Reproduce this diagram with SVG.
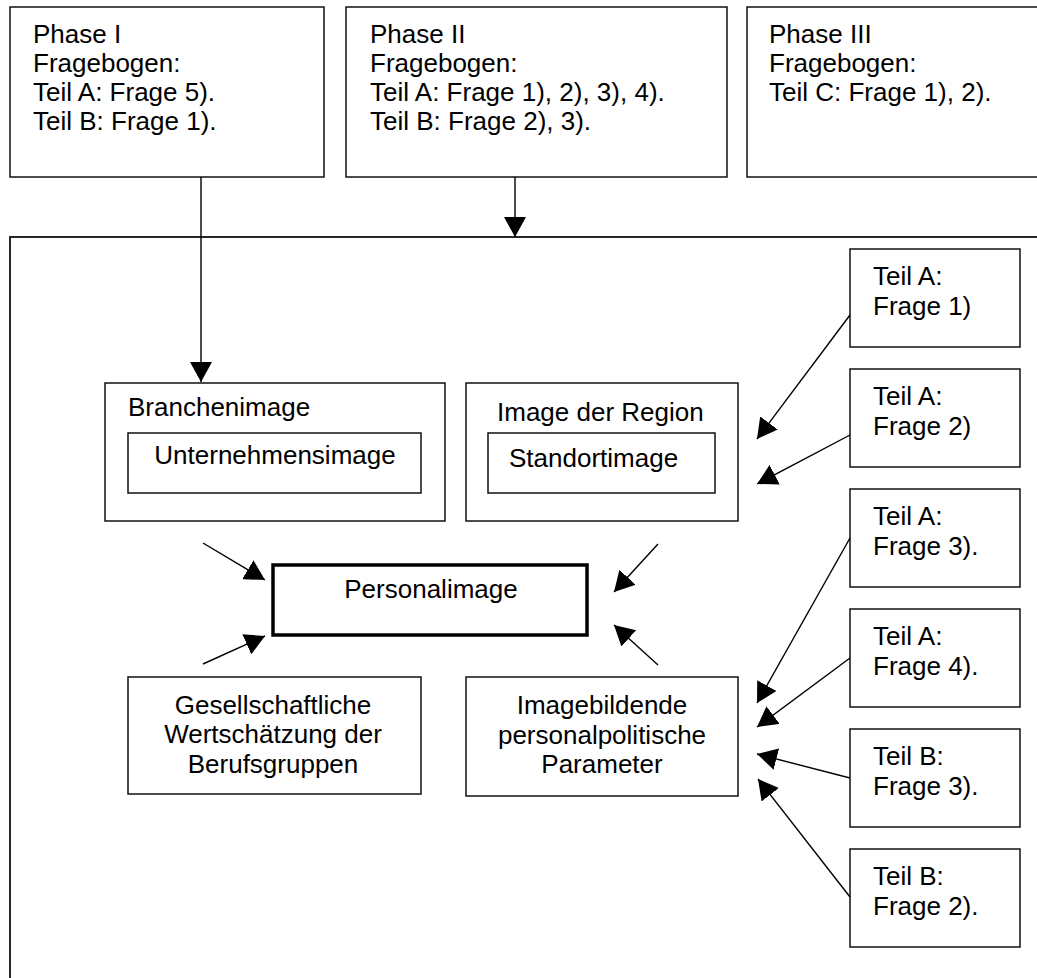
<svg xmlns="http://www.w3.org/2000/svg" width="1037" height="978" viewBox="0 0 1037 978">
<style>
.bx{fill:#fff;stroke:#111;stroke-width:1.5}
.t{font-family:"Liberation Sans",Arial,sans-serif;font-size:26px;fill:#000}
.c{text-anchor:middle}
.ln{stroke:#000;stroke-width:1.4;fill:none;marker-end:url(#ah)}
</style>
<defs>
<marker id="ah" viewBox="0 0 20 22" refX="20" refY="11" markerWidth="20" markerHeight="22" markerUnits="userSpaceOnUse" orient="auto"><path d="M0,0 L20,11 L0,22 z" fill="#000"/></marker>
</defs>
<rect width="1037" height="978" fill="#fff"/>
<g id="outer"><rect x="10" y="237" width="1100" height="800" fill="none" stroke="#111" stroke-width="1.8"/></g>
<g id="phase1"><rect class="bx" x="10" y="7" width="314" height="170"/>
<text class="t" x="33" y="43">Phase I</text><text class="t" x="33" y="72">Fragebogen:</text><text class="t" x="33" y="101">Teil A: Frage 5).</text><text class="t" x="33" y="130">Teil B: Frage 1).</text></g>
<g id="phase2"><rect class="bx" x="346" y="7" width="381" height="170"/>
<text class="t" x="370" y="43">Phase II</text><text class="t" x="370" y="72">Fragebogen:</text><text class="t" x="370" y="101">Teil A: Frage 1), 2), 3), 4).</text><text class="t" x="370" y="130">Teil B: Frage 2), 3).</text></g>
<g id="phase3"><rect class="bx" x="747" y="7" width="400" height="170"/>
<text class="t" x="769" y="43">Phase III</text><text class="t" x="769" y="72">Fragebogen:</text><text class="t" x="769" y="101">Teil C: Frage 1), 2).</text></g>
<g id="branche"><rect class="bx" x="105" y="383" width="340" height="138"/>
<text class="t" x="128" y="416">Branchenimage</text>
<rect class="bx" x="128" y="433" width="293" height="60"/>
<text class="t c" x="275" y="464">Unternehmensimage</text></g>
<g id="region"><rect class="bx" x="466" y="383" width="272" height="138"/>
<text class="t" x="497" y="421">Image der Region</text>
<rect class="bx" x="488" y="433" width="227" height="60"/>
<text class="t" x="509" y="467">Standortimage</text></g>
<g id="personal"><rect x="273" y="565" width="314" height="70" fill="#fff" stroke="#000" stroke-width="3.5"/>
<text class="t c" x="431" y="598">Personalimage</text></g>
<g id="gesell"><rect class="bx" x="128" y="677" width="293" height="117"/>
<text class="t c" x="273" y="714">Gesellschaftliche</text><text class="t c" x="273" y="743">Wertschätzung der</text><text class="t c" x="273" y="773">Berufsgruppen</text></g>
<g id="param"><rect class="bx" x="466" y="677" width="272" height="119"/>
<text class="t c" x="602" y="714">Imagebildende</text><text class="t c" x="602" y="744">personalpolitische</text><text class="t c" x="602" y="773">Parameter</text></g>
<g id="a1"><rect class="bx" x="850" y="249" width="170" height="98"/><text class="t" x="873" y="285">Teil A:</text><text class="t" x="873" y="315">Frage 1)</text></g>
<g id="a2"><rect class="bx" x="850" y="369" width="170" height="98"/><text class="t" x="873" y="405">Teil A:</text><text class="t" x="873" y="435">Frage 2)</text></g>
<g id="a3"><rect class="bx" x="850" y="489" width="170" height="98"/><text class="t" x="873" y="525">Teil A:</text><text class="t" x="873" y="555">Frage 3).</text></g>
<g id="a4"><rect class="bx" x="850" y="609" width="170" height="98"/><text class="t" x="873" y="645">Teil A:</text><text class="t" x="873" y="675">Frage 4).</text></g>
<g id="b3"><rect class="bx" x="850" y="729" width="170" height="98"/><text class="t" x="873" y="765">Teil B:</text><text class="t" x="873" y="795">Frage 3).</text></g>
<g id="b2"><rect class="bx" x="850" y="849" width="170" height="98"/><text class="t" x="873" y="885">Teil B:</text><text class="t" x="873" y="915">Frage 2).</text></g>
<g id="connectors">
<line class="ln" x1="201" y1="177" x2="201" y2="382"/>
<line class="ln" x1="515" y1="177" x2="515" y2="237" stroke-width="2.6"/>
<line class="ln" x1="850" y1="315" x2="757" y2="439"/>
<line class="ln" x1="850" y1="435" x2="757" y2="484"/>
<line class="ln" x1="850" y1="538" x2="757" y2="703"/>
<line class="ln" x1="850" y1="658" x2="757" y2="727"/>
<line class="ln" x1="850" y1="778" x2="757" y2="754"/>
<line class="ln" x1="850" y1="897" x2="758" y2="779"/>
<line class="ln" x1="203" y1="543" x2="265" y2="580"/>
<line class="ln" x1="203" y1="664" x2="265" y2="636"/>
<line class="ln" x1="658" y1="544" x2="614" y2="592"/>
<line class="ln" x1="658" y1="665" x2="614" y2="625"/>
</g>
</svg>
